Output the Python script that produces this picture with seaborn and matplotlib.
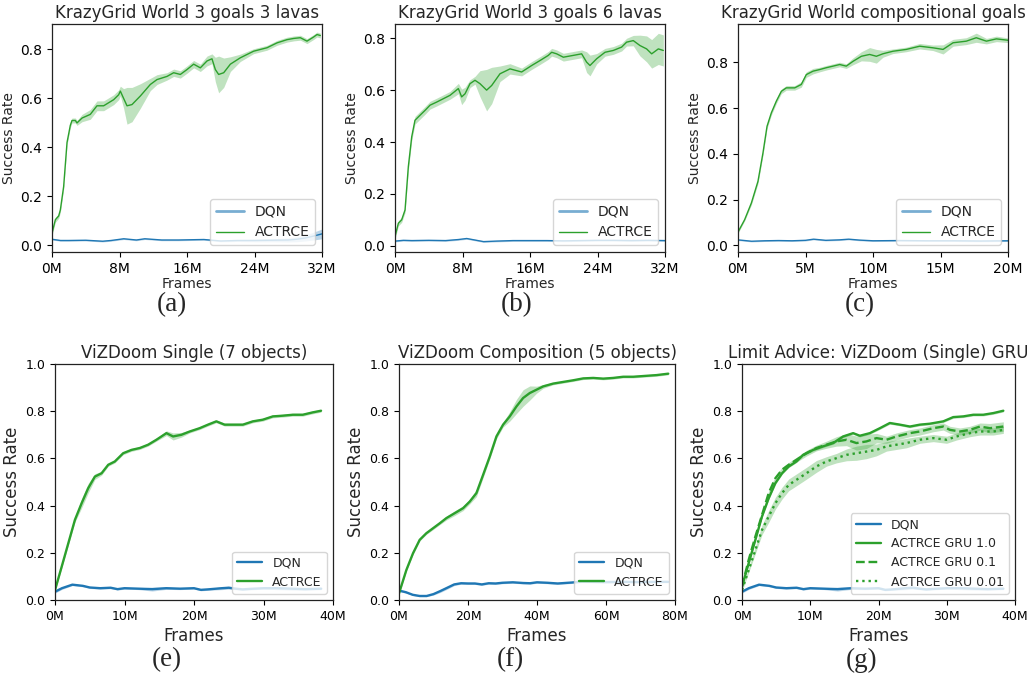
import numpy as np
import pandas as pd
import matplotlib
matplotlib.use("Agg")
import matplotlib.pyplot as plt
import seaborn as sns

sns.set_style("ticks")
plt.rcParams['font.family'] = ['DejaVu Sans']

BLUE = "#1f77b4"
GREEN = "#2ca02c"

# ---------------- (a) KrazyGrid 3 goals 3 lavas ----------------
a_act_x = [0.0, 0.40, 0.79, 0.99, 1.38, 1.78, 2.17, 2.37, 2.77, 2.96, 3.56, 4.54, 5.33, 6.12, 7.31, 7.90,
           8.10, 8.49, 8.89, 9.48, 10.47, 11.65, 12.44, 13.63, 14.42, 15.21, 16.0, 16.79, 17.58, 18.37,
           18.96, 19.36, 19.75, 20.35, 21.14, 22.32, 23.90, 25.48, 26.67, 27.85, 28.64, 29.43, 30.22,
           31.01, 31.41, 31.80]
a_act_y = [0.05, 0.105, 0.12, 0.145, 0.24, 0.42, 0.49, 0.51, 0.51, 0.50, 0.52, 0.535, 0.57, 0.57, 0.595,
           0.615, 0.63, 0.60, 0.57, 0.575, 0.61, 0.657, 0.677, 0.69, 0.705, 0.698, 0.718, 0.74, 0.725,
           0.753, 0.762, 0.718, 0.698, 0.705, 0.74, 0.766, 0.793, 0.807, 0.827, 0.84, 0.845, 0.848, 0.834,
           0.851, 0.861, 0.857]
a_act_sd = [0.01, 0.01, 0.01, 0.01, 0.01, 0.01, 0.01, 0.01, 0.01, 0.01, 0.015, 0.02, 0.02, 0.02, 0.02,
            0.02, 0.02, 0.04, 0.075, 0.07, 0.05, 0.025, 0.02, 0.015, 0.015, 0.015, 0.015, 0.015, 0.015,
            0.02, 0.02, 0.05, 0.075, 0.06, 0.03, 0.015, 0.01, 0.01, 0.01, 0.01, 0.01, 0.01, 0.01, 0.01,
            0.01, 0.01]
a_dqn_x = [0, 1, 2, 4, 6, 7, 8.5, 10, 11, 13, 15, 18, 20, 22, 24, 26, 28, 29, 30, 31, 32]
a_dqn_y = [0.025, 0.02, 0.02, 0.021, 0.017, 0.02, 0.027, 0.022, 0.027, 0.022, 0.022, 0.024, 0.018, 0.02,
           0.02, 0.021, 0.022, 0.025, 0.03, 0.038, 0.047]
a_dqn_sd = [0.003, 0.003, 0.003, 0.003, 0.003, 0.003, 0.003, 0.003, 0.003, 0.003, 0.003, 0.003, 0.003,
            0.004, 0.005, 0.006, 0.008, 0.01, 0.012, 0.016, 0.02]

# ---------------- (b) KrazyGrid 3 goals 6 lavas ----------------
b_act_x = [0.0, 0.40, 0.79, 1.19, 1.58, 1.98, 2.37, 2.96, 3.56, 4.15, 4.94, 5.73, 6.52, 7.51, 7.90, 8.30,
           8.89, 9.48, 10.07, 10.86, 11.46, 12.44, 13.63, 15.01, 16.2, 17.18, 18.17, 18.57, 19.16, 19.95,
           21.13, 22.12, 22.71, 23.11, 23.9, 24.89, 25.87, 26.86, 27.45, 28.24, 29.03, 29.82, 30.42,
           31.21, 31.8]
b_act_y = [0.036, 0.087, 0.10, 0.138, 0.305, 0.42, 0.484, 0.503, 0.522, 0.542, 0.554, 0.567, 0.58, 0.606,
           0.574, 0.586, 0.625, 0.638, 0.625, 0.60, 0.618, 0.663, 0.682, 0.67, 0.695, 0.714, 0.734, 0.746,
           0.74, 0.727, 0.734, 0.74, 0.708, 0.695, 0.721, 0.746, 0.753, 0.766, 0.785, 0.791, 0.772, 0.759,
           0.74, 0.759, 0.753]
b_act_sd = [0.01, 0.01, 0.01, 0.01, 0.015, 0.015, 0.015, 0.015, 0.015, 0.015, 0.015, 0.015, 0.015, 0.02,
            0.03, 0.025, 0.015, 0.015, 0.05, 0.08, 0.07, 0.03, 0.02, 0.015, 0.015, 0.015, 0.015, 0.015,
            0.015, 0.015, 0.015, 0.015, 0.04, 0.04, 0.02, 0.015, 0.015, 0.015, 0.015, 0.02, 0.04, 0.05,
            0.055, 0.06, 0.06]
b_dqn_x = [0, 1, 2, 4, 6, 7.5, 8.5, 9.5, 10.5, 12, 14, 16, 18, 20, 22, 24, 26, 28, 30, 32]
b_dqn_y = [0.018, 0.021, 0.02, 0.021, 0.02, 0.024, 0.028, 0.022, 0.016, 0.018, 0.02, 0.02, 0.02, 0.019,
           0.02, 0.021, 0.021, 0.02, 0.021, 0.02]
b_dqn_sd = [0.003] * 20

# ---------------- (c) KrazyGrid compositional goals ----------------
c_act_x = [0.0, 0.49, 0.99, 1.48, 1.85, 2.15, 2.47, 2.84, 3.21, 3.58, 4.2, 4.69, 5.06, 5.56, 6.05, 6.54,
           7.04, 7.53, 8.02, 8.52, 9.14, 9.75, 10.25, 10.74, 11.48, 12.47, 13.46, 14.44, 15.19, 15.93,
           16.91, 17.65, 18.4, 19.14, 20.0]
c_act_y = [0.058, 0.112, 0.185, 0.28, 0.404, 0.52, 0.579, 0.63, 0.673, 0.688, 0.688, 0.703, 0.746, 0.761,
           0.768, 0.776, 0.783, 0.79, 0.783, 0.804, 0.826, 0.834, 0.826, 0.837, 0.848, 0.856, 0.87, 0.863,
           0.856, 0.885, 0.892, 0.907, 0.892, 0.902, 0.896]
c_act_sd = [0.005, 0.005, 0.008, 0.01, 0.01, 0.01, 0.01, 0.01, 0.01, 0.01, 0.01, 0.012, 0.012, 0.012, 0.01,
            0.01, 0.01, 0.01, 0.01, 0.015, 0.02, 0.03, 0.03, 0.015, 0.01, 0.01, 0.012, 0.012, 0.02, 0.015,
            0.015, 0.02, 0.012, 0.012, 0.01]
c_dqn_x = [0, 1, 2, 3, 4, 5, 5.6, 6.5, 7.5, 8.2, 9, 10, 12, 14, 16, 18, 20]
c_dqn_y = [0.024, 0.018, 0.02, 0.021, 0.02, 0.022, 0.027, 0.022, 0.024, 0.027, 0.023, 0.02, 0.021, 0.02,
           0.02, 0.019, 0.02]
c_dqn_sd = [0.003] * 17

# ---------------- (e) ViZDoom Single ----------------
e_act_x = [0, 0.96, 1.91, 2.87, 3.83, 4.78, 5.74, 6.7, 7.66, 8.61, 9.81, 11.0, 12.2, 13.4, 14.59, 16.03,
           16.99, 18.18, 19.38, 20.81, 22.01, 23.21, 24.4, 25.6, 27.03, 28.47, 29.9, 31.34, 32.78, 34.21,
           35.65, 37.08, 38.28]
e_act_y = [0.042, 0.141, 0.24, 0.34, 0.41, 0.474, 0.523, 0.537, 0.573, 0.587, 0.622, 0.636, 0.644, 0.658,
           0.679, 0.707, 0.693, 0.70, 0.714, 0.728, 0.743, 0.757, 0.743, 0.743, 0.743, 0.757, 0.764, 0.778,
           0.781, 0.785, 0.785, 0.795, 0.802]
e_act_sd = [0.005, 0.006, 0.008, 0.01, 0.02, 0.02, 0.012, 0.008, 0.006, 0.006, 0.006, 0.006, 0.006, 0.006,
            0.006, 0.01, 0.015, 0.01, 0.006, 0.006, 0.006, 0.006, 0.006, 0.006, 0.006, 0.006, 0.006,
            0.006, 0.006, 0.006, 0.006, 0.006, 0.006]
e_dqn_x = [0, 1, 2.5, 4, 5, 6.5, 8, 9, 10, 12, 14, 16, 18, 20, 21, 22, 24, 25, 26, 27, 28, 30, 32, 34,
           36, 38.3]
e_dqn_y = [0.035, 0.05, 0.065, 0.06, 0.053, 0.05, 0.052, 0.046, 0.05, 0.048, 0.046, 0.05, 0.048, 0.05,
           0.043, 0.045, 0.05, 0.052, 0.048, 0.045, 0.047, 0.05, 0.05, 0.048, 0.046, 0.048]
e_dqn_sd = [0.006, 0.005, 0.004, 0.004, 0.004, 0.004, 0.004, 0.004, 0.004, 0.004, 0.008, 0.005, 0.004,
            0.004, 0.004, 0.004, 0.006, 0.006, 0.004, 0.004, 0.004, 0.004, 0.006, 0.006, 0.004, 0.004]

# ---------------- (f) ViZDoom Composition ----------------
f_act_x = [0, 2.13, 4.06, 6.0, 7.93, 9.86, 11.8, 13.73, 16.15, 18.57, 20.5, 22.44, 24.37, 26.31, 28.24,
           30.17, 32.11, 34.04, 35.98, 37.91, 39.85, 41.78, 44.68, 47.58, 50.48, 53.38, 56.29, 59.19,
           62.09, 64.99, 67.89, 71.76, 74.66, 78.05]
f_act_y = [0.028, 0.127, 0.198, 0.255, 0.283, 0.304, 0.325, 0.347, 0.368, 0.389, 0.417, 0.453, 0.53,
           0.608, 0.693, 0.743, 0.778, 0.82, 0.856, 0.877, 0.891, 0.905, 0.917, 0.924, 0.931, 0.939,
           0.941, 0.938, 0.941, 0.946, 0.946, 0.95, 0.953, 0.959]
f_act_sd = [0.004, 0.005, 0.005, 0.005, 0.005, 0.006, 0.006, 0.008, 0.01, 0.01, 0.01, 0.015, 0.012, 0.01,
            0.01, 0.01, 0.02, 0.03, 0.035, 0.03, 0.015, 0.008, 0.005, 0.005, 0.005, 0.005, 0.005, 0.005,
            0.005, 0.005, 0.005, 0.005, 0.005, 0.005]
f_dqn_x = [0, 2, 4, 6, 8, 10, 12, 14, 16, 18, 20, 22, 24, 26, 28, 30, 33, 36, 38, 40, 43, 46, 50, 53, 56,
           60, 65, 70, 75, 78]
f_dqn_y = [0.04, 0.033, 0.022, 0.017, 0.017, 0.025, 0.038, 0.052, 0.066, 0.071, 0.07, 0.07, 0.066, 0.071,
           0.07, 0.073, 0.075, 0.072, 0.071, 0.075, 0.073, 0.07, 0.074, 0.078, 0.077, 0.076, 0.077, 0.076,
           0.077, 0.077]
f_dqn_sd = [0.004, 0.004, 0.003, 0.003, 0.003, 0.004, 0.006, 0.006, 0.005, 0.004, 0.004, 0.004, 0.004,
            0.004, 0.004, 0.004, 0.004, 0.004, 0.004, 0.004, 0.004, 0.004, 0.004, 0.004, 0.004, 0.004,
            0.004, 0.004, 0.004, 0.004]

# ---------------- (g) Limit advice ----------------
g_gru10_x = [0, 0.98, 1.96, 2.93, 3.91, 4.89, 5.87, 6.85, 7.97, 8.95, 10.42, 11.88, 13.35, 14.82, 16.28,
             17.26, 18.73, 20.2, 21.66, 23.13, 24.6, 26.06, 27.53, 29.49, 30.95, 32.42, 33.89, 35.35,
             36.82, 38.29]
g_gru10_y = [0.057, 0.156, 0.255, 0.354, 0.431, 0.495, 0.537, 0.566, 0.587, 0.615, 0.636, 0.651, 0.665,
             0.693, 0.707, 0.696, 0.707, 0.728, 0.75, 0.743, 0.735, 0.743, 0.747, 0.757, 0.775, 0.778,
             0.785, 0.785, 0.792, 0.802]
g_gru10_sd = [0.005] * 30
g_gru01_x = [0, 0.98, 1.96, 2.93, 3.91, 4.89, 5.87, 6.85, 7.97, 9.44, 10.9, 12.37, 13.84, 15.31, 16.77,
             18.24, 19.71, 21.17, 22.64, 24.6, 26.06, 28.02, 29.49, 30.46, 31.93, 33.4, 34.87, 36.33, 38.29]
g_gru01_y = [0.057, 0.17, 0.269, 0.36, 0.453, 0.516, 0.552, 0.573, 0.594, 0.622, 0.644, 0.658, 0.672,
             0.679, 0.665, 0.672, 0.686, 0.679, 0.693, 0.707, 0.714, 0.728, 0.735, 0.721, 0.714, 0.721,
             0.735, 0.728, 0.735]
g_gru01_sd = [0.005, 0.006, 0.008, 0.01, 0.01, 0.01, 0.01, 0.01, 0.01, 0.012, 0.012, 0.015, 0.02, 0.025,
              0.03, 0.03, 0.02, 0.015, 0.015, 0.015, 0.015, 0.015, 0.015, 0.015, 0.015, 0.015, 0.015,
              0.02, 0.02]
g_gru001_x = [0, 0.98, 1.96, 2.93, 3.91, 4.89, 5.87, 6.85, 7.97, 9.44, 10.9, 12.37, 13.84, 15.31, 16.77,
              18.24, 19.71, 21.17, 22.64, 24.11, 26.06, 28.02, 29.98, 31.44, 33.4, 34.87, 36.82, 38.29]
g_gru001_y = [0.042, 0.127, 0.212, 0.297, 0.354, 0.41, 0.453, 0.488, 0.509, 0.537, 0.566, 0.587, 0.601,
              0.615, 0.622, 0.629, 0.636, 0.651, 0.658, 0.665, 0.679, 0.686, 0.679, 0.693, 0.707, 0.714,
              0.714, 0.721]
g_gru001_sd = [0.005, 0.01, 0.015, 0.02, 0.025, 0.025, 0.025, 0.025, 0.025, 0.025, 0.025, 0.02, 0.02,
               0.025, 0.03, 0.03, 0.025, 0.02, 0.02, 0.02, 0.015, 0.015, 0.015, 0.015, 0.015, 0.015,
               0.015, 0.015]

# ---------------- texts / ticks ----------------
titles = ["KrazyGrid World 3 goals 3 lavas", "KrazyGrid World 3 goals 6 lavas",
          "KrazyGrid World compositional goals", "ViZDoom Single (7 objects)",
          "ViZDoom Composition (5 objects)", "Limit Advice: ViZDoom (Single) GRU"]
captions = ["(a)", "(b)", "(c)", "(e)", "(f)", "(g)"]
xticks_32 = [0, 8, 16, 24, 32]
xticks_20 = [0, 5, 10, 15, 20]
xticks_40 = [0, 10, 20, 30, 40]
xticks_80 = [0, 20, 40, 60, 80]
yticks_top = [0.0, 0.2, 0.4, 0.6, 0.8]
yticks_bot = [0.0, 0.2, 0.4, 0.6, 0.8, 1.0]
ylims = [(-0.027, 0.904), (-0.024, 0.855), (-0.029, 0.967), (0, 1), (0, 1), (0, 1)]

W, H = 1027, 674
fig = plt.figure(figsize=(W / 100, H / 100), dpi=100)

boxes = [(52, 24, 322, 252), (395, 24, 665, 252), (738, 24, 1008, 252),
         (55, 364, 333, 600), (399, 364, 675, 600), (742, 364, 1015, 600)]
axes = []
for (l, t, r, b) in boxes:
    axes.append(fig.add_axes([l / W, 1 - b / H, (r - l) / W, (b - t) / H]))


def draw(ax, x, y, sd, color, label, lw, ls="-", alpha=0.3):
    x = np.asarray(x); y = np.asarray(y); sd = np.asarray(sd)
    ax.fill_between(x, y - sd, y + sd, color=color, alpha=alpha, linewidth=0)
    sns.lineplot(x=x, y=y, ax=ax, color=color, label=label, linewidth=lw, linestyle=ls)


top_lw = 1.0
draw(axes[0], a_dqn_x, a_dqn_y, a_dqn_sd, BLUE, "DQN", top_lw)
draw(axes[0], a_act_x, a_act_y, a_act_sd, GREEN, "ACTRCE", top_lw)
draw(axes[1], b_dqn_x, b_dqn_y, b_dqn_sd, BLUE, "DQN", top_lw)
draw(axes[1], b_act_x, b_act_y, b_act_sd, GREEN, "ACTRCE", top_lw)
draw(axes[2], c_dqn_x, c_dqn_y, c_dqn_sd, BLUE, "DQN", top_lw)
draw(axes[2], c_act_x, c_act_y, c_act_sd, GREEN, "ACTRCE", top_lw)

bot_lw = 1.7
draw(axes[3], e_dqn_x, e_dqn_y, e_dqn_sd, BLUE, "DQN", bot_lw)
draw(axes[3], e_act_x, e_act_y, e_act_sd, GREEN, "ACTRCE", bot_lw)
draw(axes[4], f_dqn_x, f_dqn_y, f_dqn_sd, BLUE, "DQN", bot_lw)
draw(axes[4], f_act_x, f_act_y, f_act_sd, GREEN, "ACTRCE", bot_lw)
draw(axes[5], e_dqn_x, e_dqn_y, e_dqn_sd, BLUE, "DQN", bot_lw)
draw(axes[5], g_gru10_x, g_gru10_y, g_gru10_sd, GREEN, "ACTRCE GRU 1.0", bot_lw, "-")
draw(axes[5], g_gru01_x, g_gru01_y, g_gru01_sd, GREEN, "ACTRCE GRU 0.1", bot_lw, "--")
draw(axes[5], g_gru001_x, g_gru001_y, g_gru001_sd, GREEN, "ACTRCE GRU 0.01", bot_lw, ":")

xt = [xticks_32, xticks_32, xticks_20, xticks_40, xticks_80, xticks_40]
for i, ax in enumerate(axes):
    top = i < 3
    ax.set_xlim(xt[i][0], xt[i][-1])
    ax.set_ylim(*ylims[i])
    ax.set_xticks(xt[i])
    ax.set_xticklabels([f"{v}M" for v in xt[i]])
    yt = yticks_top if top else yticks_bot
    ax.set_yticks(yt)
    ax.set_yticklabels([f"{v:.1f}" for v in yt])
    ax.tick_params(labelsize=10 if top else 9, length=3.5, width=0.8, colors="black")
    for s in ax.spines.values():
        s.set_color("#222222")
        s.set_linewidth(0.9)
    ax.set_title(titles[i], fontsize=12, pad=4)
    lab = 10 if top else 12
    ax.set_xlabel("Frames", fontsize=lab, labelpad=1 if top else 3)
    ax.set_ylabel("Success Rate", fontsize=lab, labelpad=3)
    leg = ax.legend(loc="lower right", fontsize=10 if top else 9, framealpha=0.8,
                    edgecolor="#cccccc", fancybox=True)
    if top:
        h = leg.get_lines()[0]
        h.set_linewidth(2.0)
        h.set_alpha(0.6)

cap_pos = [(172, 305), (517, 305), (860, 305), (167, 660), (510, 660), (862, 660)]
for (cx, cy), c in zip(cap_pos, captions):
    fig.text(cx / W, 1 - cy / H, c, ha="center", va="center", fontsize=19.5,
             family="Liberation Serif")

fig.savefig("out.png", dpi=100)
